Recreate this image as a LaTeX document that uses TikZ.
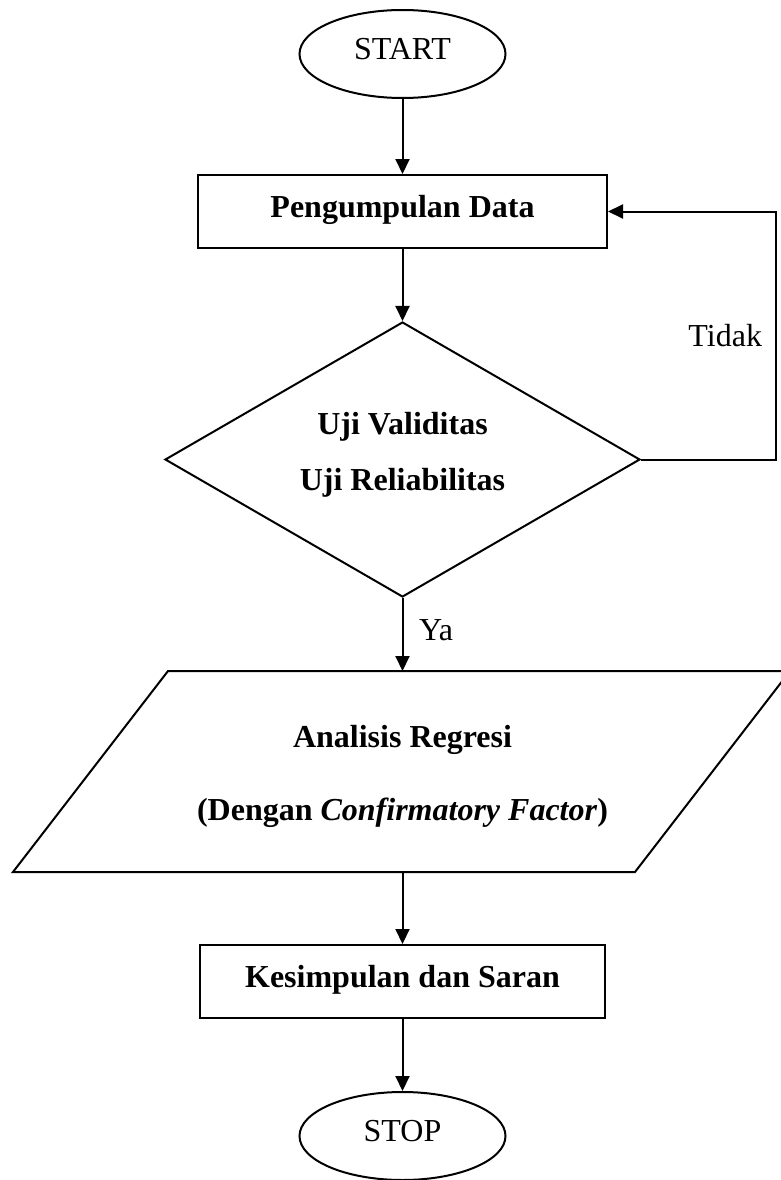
\documentclass[tikz,border=0pt]{standalone}
\usepackage{fontspec}
\setmainfont{Liberation Serif}
\usetikzlibrary{shapes.geometric,arrows.meta}
\begin{document}
\begin{tikzpicture}[x=1pt,y=-1pt,
  line width=2pt,
  every node/.style={font=\fontsize{32}{38}\selectfont, inner sep=0pt},
  flow/.style={-{Triangle[length=15pt,width=14pt]}},
  bold/.style={font=\fontsize{32}{38}\selectfont\bfseries},
  balanced/.style={text height=22pt, text depth=11pt},
  procbox/.style={draw, rectangle, bold, balanced},
  term/.style={draw, ellipse, balanced},
  ]
\useasboundingbox (0,0) rectangle (780,1180);

% terminals and process boxes
\node[term, minimum width=206pt, minimum height=88pt] (start) at (402.5,54) {START};
\node[procbox, minimum width=409pt, minimum height=73pt] (collect) at (402.5,211.5) {Pengumpulan Data};

% decision
\node[draw, diamond, minimum width=475pt, minimum height=275pt] (test) at (402.5,459.5) {};
\node[bold, anchor=base] (valid) at (402.5,434) {Uji Validitas};
\node[bold, anchor=base] (reliab) at (402.5,490) {Uji Reliabilitas};

% data step (parallelogram)
\draw (168,671) -- (790,671) -- (635,872) -- (13,872) -- cycle;
\coordinate (anTop) at (402.5,671);
\coordinate (anBot) at (402.5,872);
\node[bold, anchor=base] (an1) at (402.5,747) {Analisis Regresi};
\node[bold, anchor=base] (an2) at (402.5,820) {(Dengan \textit{Confirmatory Factor})};

\node[procbox, minimum width=405pt, minimum height=73pt] (conclude) at (402.5,981.5) {Kesimpulan dan Saran};
\node[term, minimum width=206pt, minimum height=88pt] (stop) at (402.5,1136) {STOP};

% connectors
\draw[flow] (start) -- (collect);
\draw[flow] (collect) -- (test);
\draw[flow] (test.south) -- (anTop);
\draw[flow] (anBot) -- (conclude);
\draw[flow] (conclude) -- (stop);
\draw[flow] (test.east) -- ++(135,0) |- (collect.east);

% branch labels
\node[anchor=base east] (no) at (763,346) {Tidak};
\node[anchor=base west] (yes) at (418,640) {Ya};
\end{tikzpicture}
\end{document}
